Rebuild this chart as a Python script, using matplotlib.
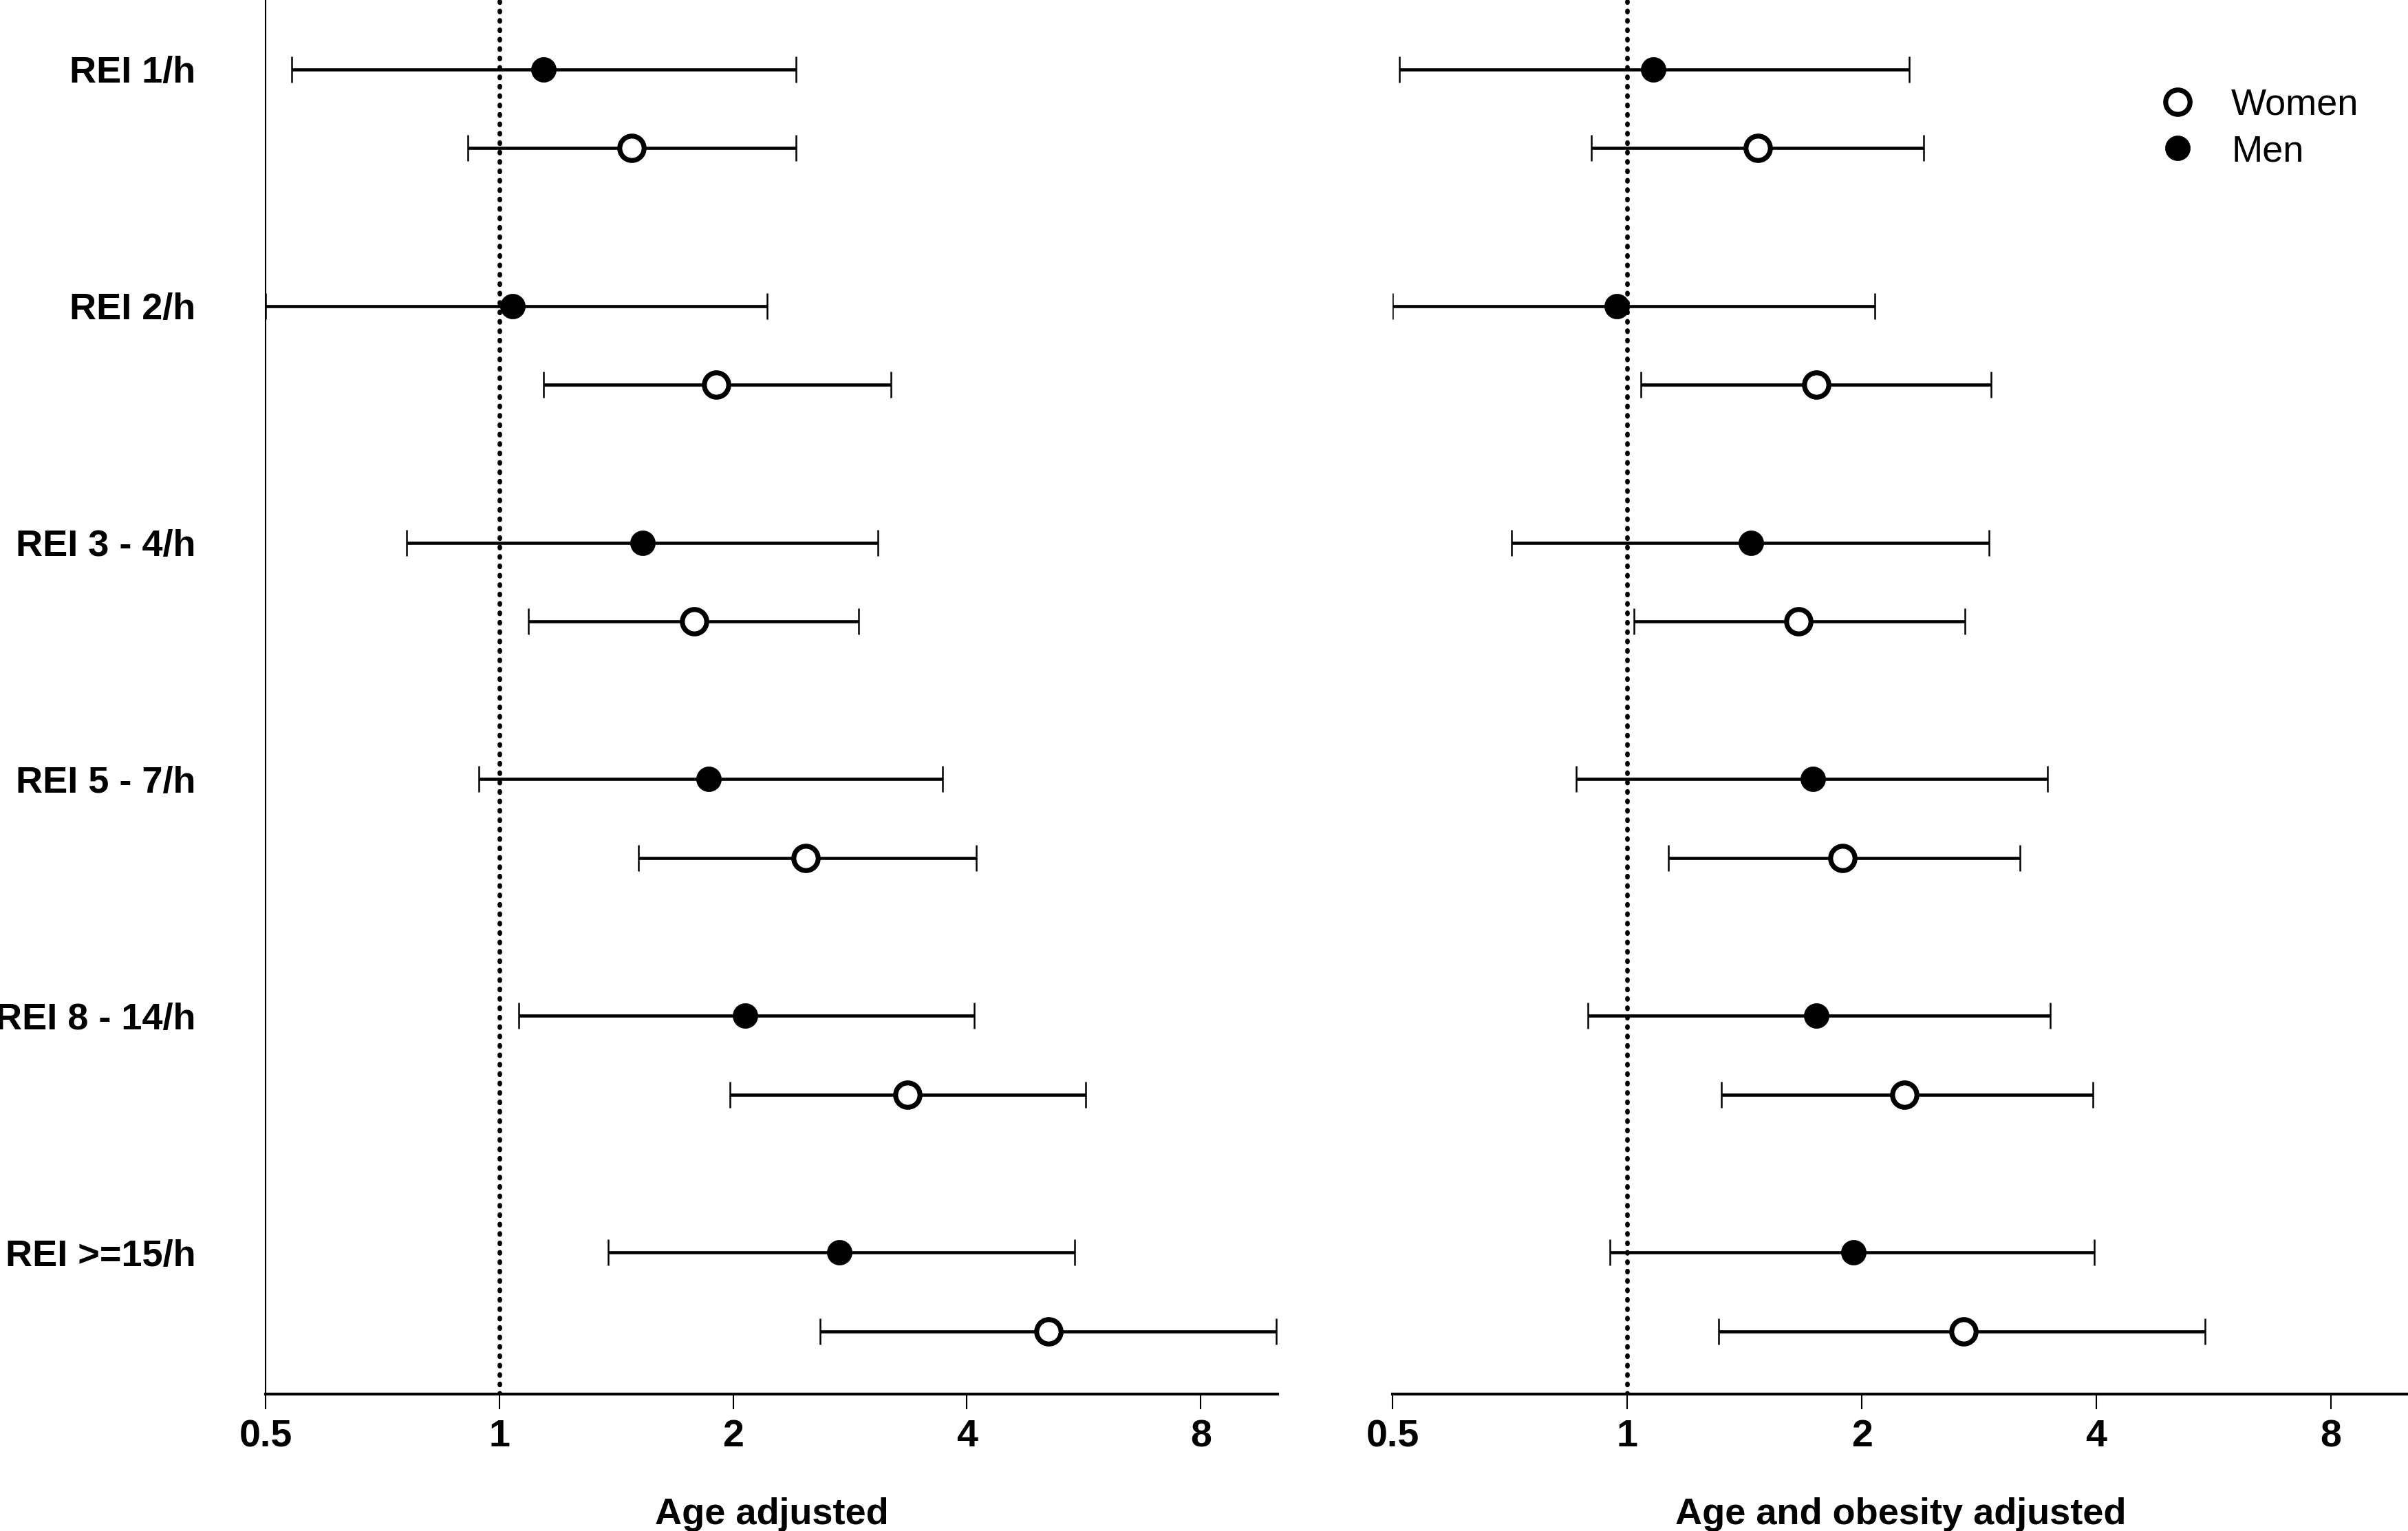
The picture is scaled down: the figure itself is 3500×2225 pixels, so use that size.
import numpy as np
import matplotlib
matplotlib.use("Agg")
import matplotlib.pyplot as plt
from matplotlib.lines import Line2D

plt.rcParams['font.family'] = ['Liberation Sans', 'DejaVu Sans']

# REI categories (top to bottom)
categories = ["REI 1/h", "REI 2/h", "REI 3 - 4/h", "REI 5 - 7/h", "REI 8 - 14/h", "REI >=15/h"]

# Age adjusted: odds ratio and 95% CI
age_men = [1.14, 1.04, 1.53, 1.86, 2.07, 2.74]
age_men_lo = [0.54, 0.50, 0.76, 0.94, 1.06, 1.38]
age_men_hi = [2.41, 2.21, 3.07, 3.72, 4.09, 5.51]
age_women = [1.48, 1.90, 1.78, 2.48, 3.35, 5.09]
age_women_lo = [0.91, 1.14, 1.09, 1.51, 1.98, 2.59]
age_women_hi = [2.41, 3.19, 2.90, 4.11, 5.69, 10.0]

# Age and obesity adjusted
ob_men = [1.08, 0.97, 1.44, 1.73, 1.75, 1.95]
ob_men_lo = [0.51, 0.50, 0.71, 0.86, 0.89, 0.95]
ob_men_hi = [2.30, 2.08, 2.91, 3.46, 3.49, 3.98]
ob_women = [1.47, 1.75, 1.66, 1.89, 2.27, 2.70]
ob_women_lo = [0.90, 1.04, 1.02, 1.13, 1.32, 1.31]
ob_women_hi = [2.40, 2.93, 2.71, 3.19, 3.96, 5.52]

xticks = [0.5, 1, 2, 4, 8]
xticklabels = ["0.5", "1", "2", "4", "8"]


def forest(ax, men, men_lo, men_hi, women, women_lo, women_hi):
    y_men = np.arange(len(categories)) * 3
    y_women = y_men + 1
    men, men_lo, men_hi = map(np.array, (men, men_lo, men_hi))
    women, women_lo, women_hi = map(np.array, (women, women_lo, women_hi))

    ref = ax.axvline(1, color='black', lw=4.8, ls=(0, (0.25, 1.8)), zorder=1)
    ref.set_dash_capstyle('round')

    ax.errorbar(men, y_men, xerr=[men - men_lo, men_hi - men], fmt='none',
                ecolor='black', elinewidth=3.3, capsize=14, capthick=1.8, zorder=2)
    ax.errorbar(women, y_women, xerr=[women - women_lo, women_hi - women], fmt='none',
                ecolor='black', elinewidth=3.3, capsize=14, capthick=1.8, zorder=2)
    ax.plot(men, y_men, 'o', ms=26, mfc='black', mec='black', mew=0.5, ls='none', zorder=3)
    ax.plot(women, y_women, 'o', ms=25.5, mfc='white', mec='black', mew=5.2, ls='none', zorder=3)

    ax.set_xscale('log', base=2)
    ax.set_xlim(0.5, 10.05)
    ax.set_ylim(16.8, -0.88)
    ax.set_xticks(xticks)
    ax.set_xticklabels(xticklabels)
    ax.minorticks_off()
    ax.tick_params(axis='x', length=16, width=1.5, direction='out', pad=10,
                   labelsize=40)
    for lab in ax.get_xticklabels():
        lab.set_fontweight('bold')
    ax.spines['top'].set_visible(False)
    ax.spines['right'].set_visible(False)
    ax.spines['bottom'].set_linewidth(3)
    ax.spines['left'].set_linewidth(1.5)
    return y_men


fig = plt.figure(figsize=(35, 22.25), dpi=100)
ax1 = fig.add_axes([0.1103, 0.0893, 0.4203, 0.9107])
ax2 = fig.add_axes([0.5784, 0.0893, 0.4216, 0.9107])

y_men = forest(ax1, age_men, age_men_lo, age_men_hi, age_women, age_women_lo, age_women_hi)
ax1.set_yticks(y_men)
ax1.set_yticklabels(categories, fontsize=39, fontweight='bold')
ax1.tick_params(axis='y', length=0, pad=73)
ax1.set_xlabel("Age adjusted", fontsize=39, fontweight='bold', labelpad=44)

forest(ax2, ob_men, ob_men_lo, ob_men_hi, ob_women, ob_women_lo, ob_women_hi)
ax2.spines['left'].set_visible(False)
ax2.set_yticks([])
ax2.set_xlabel("Age and obesity adjusted", fontsize=39, fontweight='bold', labelpad=44)

handles = [
    Line2D([], [], marker='o', ls='none', ms=25.5, mfc='white', mec='black', mew=5.2),
    Line2D([], [], marker='o', ls='none', ms=26, mfc='black', mec='black', mew=0.5),
]
ax2.legend(handles, ["Women", "Men"], loc='upper left', bbox_to_anchor=(0.703, 0.961),
           frameon=False, fontsize=39, handletextpad=0.45, labelspacing=0.32)

fig.savefig("out.png", dpi=100)
